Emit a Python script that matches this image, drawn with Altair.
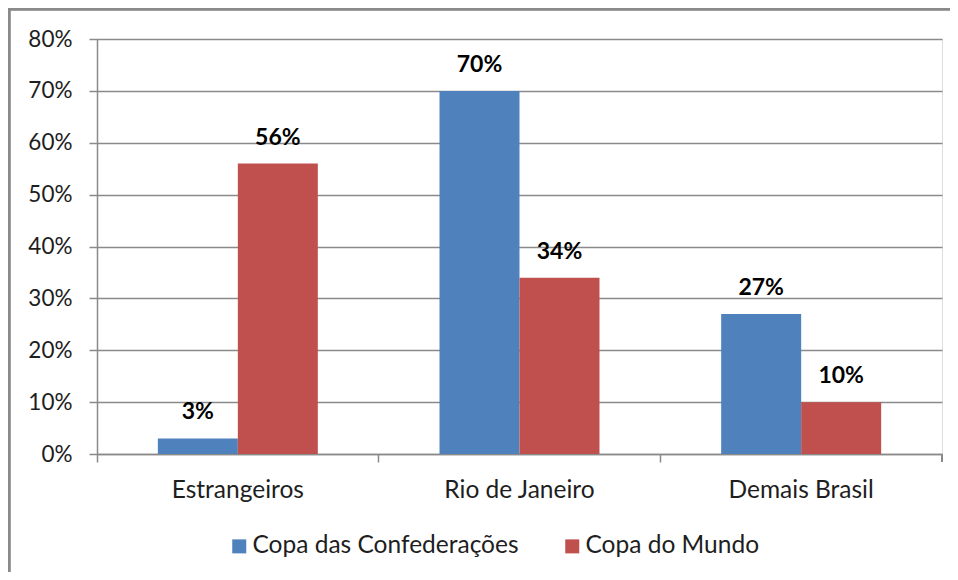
import altair as alt
import pandas as pd

categories = ["Estrangeiros", "Rio de Janeiro", "Demais Brasil"]
series = ["Copa das Confederações", "Copa do Mundo"]
confed = [0.03, 0.70, 0.27]
mundo = [0.56, 0.34, 0.10]
y_ticks = [0, 0.1, 0.2, 0.3, 0.4, 0.5, 0.6, 0.7, 0.8]
colors = ["#4F81BD", "#C0504D"]

rows = []
for c, a, b in zip(categories, confed, mundo):
    rows.append({"cat": c, "serie": series[0], "val": a})
    rows.append({"cat": c, "serie": series[1], "val": b})
df = pd.DataFrame(rows)

FONT = "Lato"
GRID = "#8a8a8a"
TXT = "#1e1e1e"

xscale = alt.Scale(domain=categories, paddingInner=0.432, paddingOuter=0.216)
yscale = alt.Scale(domain=[0, 0.8], nice=False)

base = alt.Chart(df)

bars = base.mark_bar().encode(
    x=alt.X("cat:N", scale=xscale, sort=categories,
            axis=alt.Axis(title=None, labelAngle=0, ticks=False, tickSize=0,
                          orient="bottom",
                          labelPadding=24, labelFontSize=24.5, labelFont=FONT,
                          labelColor=TXT, domainColor=GRID, domainWidth=1.5)),
    xOffset=alt.XOffset("serie:N", sort=series, scale=alt.Scale(paddingInner=0, paddingOuter=0)),
    y=alt.Y("val:Q", scale=yscale,
            axis=alt.Axis(title=None, values=y_ticks, format=".0%",
                          tickSize=8, tickColor=GRID, tickWidth=1.5,
                          labelPadding=17, labelFontSize=22.5, labelFont=FONT,
                          labelColor=TXT, domainColor=GRID, domainWidth=1.5,
                          grid=True, gridColor=GRID, gridWidth=1.5)),
    color=alt.Color("serie:N", sort=series,
                    scale=alt.Scale(domain=series, range=colors),
                    legend=alt.Legend(title=None, orient="none", direction="horizontal",
                                      legendX=130, legendY=495, padding=0,
                                      symbolType="square", symbolSize=196,
                                      symbolStrokeWidth=0, symbolOpacity=1,
                                      labelFont=FONT, labelFontSize=24.5,
                                      labelColor=TXT, labelOffset=1,
                                      columnPadding=41, labelLimit=0)),
)

labels = base.mark_text(fontSize=23, font=FONT, fontWeight="bold",
                        color="#000000", baseline="alphabetic", dy=-19).encode(
    x=alt.X("cat:N", scale=xscale, sort=categories,
            axis=alt.Axis(title=None, labels=False, domain=False, ticks=True,
                          orient="bottom",
                          tickSize=8, tickColor=GRID, tickWidth=1.5,
                          bandPosition=-0.38)),
    xOffset=alt.XOffset("serie:N", sort=series),
    y=alt.Y("val:Q", scale=yscale),
    text=alt.Text("val:Q", format=".0%"),
)

end_tick = alt.Chart(df).mark_rule(color=GRID, strokeWidth=1.5).encode(
    x=alt.value(845), y=alt.value(415), y2=alt.value(423)
)

border = alt.Chart(df).mark_rect(fill=None, stroke="#8a8a8a", strokeWidth=2.5).encode(
    x=alt.value(-88), x2=alt.value(900), y=alt.value(-30), y2=alt.value(600)
)

chart = alt.layer(border, bars, labels, end_tick).resolve_axis(x="independent").properties(
    width=845, height=415,
    padding={"left": 89, "top": 31, "right": 8, "bottom": 118},
    autosize=alt.AutoSizeParams(type="none"),
).configure_view(stroke=None).configure(background="white")

chart.save("out.html", embed_options={"renderer": "svg", "actions": False})
